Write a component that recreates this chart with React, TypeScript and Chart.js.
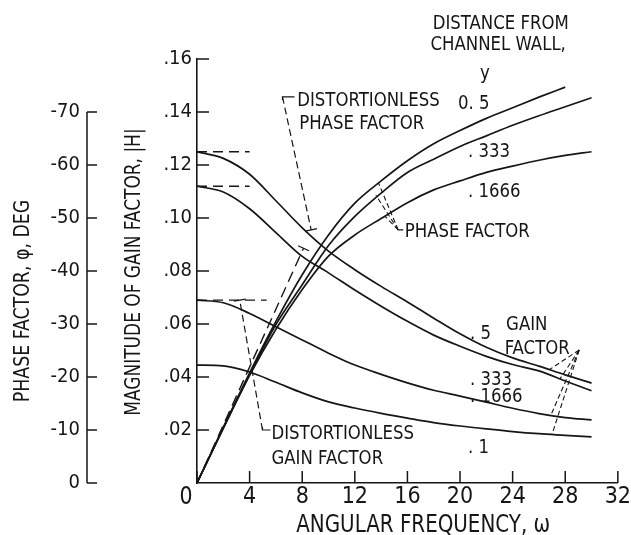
import React, { useEffect, useRef } from "react";
import { Chart, registerables } from "chart.js";

Chart.register(...registerables);

// Angular frequency samples shared by all curves
const omega = [0, 2, 4, 6, 8, 10, 12, 14, 16, 18, 20, 22, 24, 26, 28, 30];

// Magnitude of gain factor |H| for each distance from channel wall
const gainY05 = [0.125, 0.1225, 0.1165, 0.1065, 0.0963, 0.0875, 0.0805, 0.0742, 0.0683, 0.0622, 0.0563, 0.0512, 0.0472, 0.0441, 0.0408, 0.0377];
const gainY0333 = [0.112, 0.1098, 0.1035, 0.0945, 0.0855, 0.0793, 0.0728, 0.0667, 0.061, 0.0558, 0.0516, 0.0478, 0.0447, 0.0423, 0.0385, 0.0348];
const gainY01666 = [0.069, 0.068, 0.064, 0.059, 0.054, 0.049, 0.0445, 0.041, 0.0378, 0.035, 0.0328, 0.0305, 0.0282, 0.0262, 0.0247, 0.0238];
const gainY01 = [0.0445, 0.0442, 0.0419, 0.038, 0.034, 0.0306, 0.0283, 0.0263, 0.0245, 0.0228, 0.0215, 0.0204, 0.0194, 0.0186, 0.018, 0.0174];

// Phase factor, degrees (y = 0.5 curve stops at omega = 28)
const phaseY05 = [0, -10.5, -20.8, -30.5, -39.3, -46.8, -52.8, -57, -60.8, -64, -66.5, -68.8, -70.8, -72.8, -74.7];
const phaseY0333 = [0, -10.4, -20.5, -29.9, -37.4, -44.8, -50.3, -54.7, -58.6, -61.1, -63.5, -65.5, -67.5, -69.3, -71, -72.7];
const phaseY01666 = [0, -10.3, -20.3, -29, -36.5, -42.8, -46.8, -49.9, -52.9, -55.3, -57, -58.6, -59.8, -60.9, -61.8, -62.5];

// Distortionless reference lines
const distortionlessGainEnd = [4, 4, 5.3]; // omega where the dashed level lines stop
const distortionlessPhase = [
  { x: 0, y: 0 },
  { x: 8.1, y: -44.3 },
];

// Leader lines (data coordinates)
const leaderDistPhase = [
  { x: 6.5, y: 0.1457 },
  { x: 8.68, y: 0.0955 },
];
const leaderDistGain = [
  { x: 4.98, y: 0.02 },
  { x: 3.25, y: 0.069 },
];
const phaseLeaderApex = { x: 15.3, y: -47.75 };
const phaseLeaderEnds = [
  { x: 13.8, y: -56.6 },
  { x: 13.6, y: -54.3 },
  { x: 14.3, y: -50.3 },
];
const gainLeaderApex = { x: 29.06, y: 0.0502 };
const gainLeaderEnds = [
  { x: 26.8, y: 0.0428 },
  { x: 27.6, y: 0.0393 },
  { x: 26.9, y: 0.0255 },
  { x: 27.0, y: 0.0184 },
];

// Axis ticks
const omegaTicks = [0, 4, 8, 12, 16, 20, 24, 28, 32];
const gainTicks = [0.02, 0.04, 0.06, 0.08, 0.1, 0.12, 0.14, 0.16];
const phaseTicks = [0, -10, -20, -30, -40, -50, -60, -70];

const FONT = "'Liberation Sans Narrow', 'DejaVu Sans Condensed', 'Liberation Sans', sans-serif";
const INK = "#161616";

const labels = [
  { text: "DISTANCE FROM", x: 23.1, y: 0.174, align: "center" },
  { text: "CHANNEL WALL,", x: 22.9, y: 0.166, align: "center" },
  { text: "y", x: 21.9, y: 0.155, align: "center" },
  { text: "0. 5", x: 19.85, y: 0.1438, align: "left" },
  { text: ". 333", x: 20.6, y: 0.1257, align: "left" },
  { text: ". 1666", x: 20.6, y: 0.1106, align: "left" },
  { text: "DISTORTIONLESS", x: 7.62, y: 0.1449, align: "left" },
  { text: "PHASE FACTOR", x: 7.77, y: 0.1362, align: "left" },
  { text: "PHASE FACTOR", x: 15.8, y: 0.0955, align: "left" },
  { text: "GAIN", x: 23.5, y: 0.0604, align: "left" },
  { text: "FACTOR", x: 23.4, y: 0.0513, align: "left" },
  { text: ". 5", x: 20.75, y: 0.057, align: "left" },
  { text: ". 333", x: 20.75, y: 0.0396, align: "left" },
  { text: ". 1666", x: 20.75, y: 0.0332, align: "left" },
  { text: ". 1", x: 20.6, y: 0.014, align: "left" },
  { text: "DISTORTIONLESS", x: 5.66, y: 0.0192, align: "left" },
  { text: "GAIN FACTOR", x: 5.66, y: 0.0098, align: "left" },
];

const pts = (ys: number[]) => ys.map((y, i) => ({ x: omega[i], y }));

const curve = (data: any[], axis: string) => ({
  data,
  yAxisID: axis,
  borderColor: INK,
  borderWidth: 1.7,
  pointRadius: 0,
  fill: false,
  cubicInterpolationMode: "monotone" as const,
});

const dashed = (data: any[], axis: string, dash: number[], width = 1.2) => ({
  data,
  yAxisID: axis,
  borderColor: INK,
  borderWidth: width,
  borderDash: dash,
  pointRadius: 0,
  fill: false,
  tension: 0,
});

// Text squeezed horizontally to mimic condensed lettering
function squeezedText(ctx: any, text: string, x: number, y: number, size: number, align: string, squeeze: number, angle = 0) {
  ctx.save();
  ctx.translate(x, y);
  ctx.rotate(angle);
  ctx.scale(squeeze, 1);
  ctx.font = `${size}px ${FONT}`;
  ctx.textAlign = align;
  ctx.textBaseline = "alphabetic";
  ctx.fillText(text, 0, size * 0.36);
  ctx.restore();
}

// Short mark across the end of a leader line
function crossTick(ctx: any, a: { x: number; y: number }, b: { x: number; y: number }, len = 10) {
  const dx = b.x - a.x;
  const dy = b.y - a.y;
  const d = Math.hypot(dx, dy) || 1;
  const nx = -dy / d;
  const ny = dx / d;
  ctx.beginPath();
  ctx.moveTo(b.x - (nx * len) / 2, b.y - (ny * len) / 2);
  ctx.lineTo(b.x + (nx * len) / 2, b.y + (ny * len) / 2);
  ctx.stroke();
}

const decorations = {
  id: "decorations",
  afterDraw(chart: any) {
    const { ctx, scales, chartArea } = chart;
    const xs = scales.x;
    const ys = scales.y;
    const ps = scales.phase;
    const pg = (p: { x: number; y: number }) => ({ x: xs.getPixelForValue(p.x), y: ys.getPixelForValue(p.y) });
    const pp = (p: { x: number; y: number }) => ({ x: xs.getPixelForValue(p.x), y: ps.getPixelForValue(p.y) });
    ctx.save();
    ctx.strokeStyle = INK;
    ctx.fillStyle = INK;
    ctx.lineWidth = 1.5;

    // outer phase axis: line with inward ticks
    const ax = ps.right;
    ctx.beginPath();
    ctx.moveTo(ax, ps.getPixelForValue(0));
    ctx.lineTo(ax, ps.getPixelForValue(-70));
    phaseTicks.forEach((v) => {
      const py = ps.getPixelForValue(v);
      ctx.moveTo(ax, py);
      ctx.lineTo(ax + 10, py);
    });
    // inner gain axis ticks
    gainTicks.forEach((v) => {
      const py = ys.getPixelForValue(v);
      ctx.moveTo(chartArea.left, py);
      ctx.lineTo(chartArea.left + 12, py);
    });
    // frequency axis ticks
    omegaTicks.forEach((v) => {
      const px = xs.getPixelForValue(v);
      ctx.moveTo(px, chartArea.bottom);
      ctx.lineTo(px, chartArea.bottom - 12);
    });
    ctx.stroke();

    // shared zero at the origin corner
    squeezedText(ctx, "0", chartArea.left - 11, chartArea.bottom + 12, 24, "center", 0.95);

    // label corner stubs and end marks of the leaders
    ctx.lineWidth = 1.2;
    ctx.beginPath();
    const s1 = pg(leaderDistPhase[0]);
    ctx.moveTo(s1.x, s1.y + 3);
    ctx.lineTo(s1.x, s1.y);
    ctx.lineTo(s1.x + 12, s1.y);
    const s2 = pg(leaderDistGain[0]);
    ctx.moveTo(s2.x, s2.y - 3);
    ctx.lineTo(s2.x, s2.y);
    ctx.lineTo(s2.x + 8, s2.y);
    const s3 = pp(phaseLeaderApex);
    ctx.moveTo(s3.x, s3.y);
    ctx.lineTo(s3.x + 5, s3.y);
    ctx.stroke();
    crossTick(ctx, pg(leaderDistPhase[0]), pg(leaderDistPhase[1]), 12);
    crossTick(ctx, pg(leaderDistGain[0]), pg(leaderDistGain[1]), 12);
    crossTick(ctx, pp(distortionlessPhase[0]), pp(distortionlessPhase[1]), 12);

    // text labels in data coordinates
    labels.forEach((l) => {
      squeezedText(ctx, l.text, xs.getPixelForValue(l.x), ys.getPixelForValue(l.y), 20, l.align, 0.92);
    });

    // axis titles
    squeezedText(ctx, "ANGULAR FREQUENCY, ω", xs.getPixelForValue(17.2), chartArea.bottom + 40, 24, "center", 0.92);
    squeezedText(ctx, "PHASE FACTOR, φ, DEG", 21, 301, 21, "center", 0.92, -Math.PI / 2);
    squeezedText(ctx, "MAGNITUDE OF GAIN FACTOR, |H|", 132, 272, 21, "center", 0.9, -Math.PI / 2);

    ctx.restore();
  },
};

export default function App() {
  const ref = useRef<HTMLCanvasElement | null>(null);

  useEffect(() => {
    if (!ref.current) return;
    const levels = [gainY05[0], gainY0333[0], gainY01666[0]];
    const datasets: any[] = [
      curve(pts(gainY05), "y"),
      curve(pts(gainY0333), "y"),
      curve(pts(gainY01666), "y"),
      curve(pts(gainY01), "y"),
      curve(pts(phaseY05), "phase"),
      curve(pts(phaseY0333), "phase"),
      curve(pts(phaseY01666), "phase"),
      ...levels.map((h, i) =>
        dashed([{ x: 0, y: h }, { x: distortionlessGainEnd[i], y: h }], "y", [10, 6], 1.4)
      ),
      dashed(distortionlessPhase, "phase", [11, 6], 1.4),
      dashed(leaderDistPhase, "y", [7, 4]),
      dashed(leaderDistGain, "y", [7, 4]),
      ...phaseLeaderEnds.map((e) => dashed([phaseLeaderApex, e], "phase", [5, 3], 1.1)),
      ...gainLeaderEnds.map((e) => dashed([gainLeaderApex, e], "y", [5, 3], 1.1)),
    ];

    const chart = new Chart(ref.current, {
      type: "line",
      data: { datasets },
      options: {
        responsive: false,
        animation: false,
        layout: { padding: { top: 59, right: 10, left: 0, bottom: 0 } },
        plugins: { legend: { display: false }, tooltip: { enabled: false } },
        scales: {
          x: {
            type: "linear",
            min: 0,
            max: 32,
            position: "bottom",
            afterFit: (s: any) => {
              s.height = 52;
            },
            afterBuildTicks: (s: any) => {
              s.ticks = omegaTicks.map((v) => ({ value: v }));
            },
            grid: { display: false, drawTicks: false },
            border: { display: true, color: INK, width: 1.6 },
            ticks: {
              padding: 0,
              color: INK,
              font: { family: FONT, size: 23 },
              maxRotation: 0,
              callback: (v: any) => (v === 0 ? "" : String(v)),
            },
          },
          y: {
            type: "linear",
            min: 0,
            max: 0.16,
            position: "left",
            weight: 0,
            afterFit: (s: any) => {
              s.width = 110;
            },
            afterBuildTicks: (s: any) => {
              s.ticks = gainTicks.map((v) => ({ value: v }));
            },
            grid: { display: false, drawTicks: false },
            border: { display: true, color: INK, width: 1.6 },
            ticks: {
              padding: 5,
              color: INK,
              font: { family: FONT, size: 20 },
              callback: (v: any) => "." + String(Math.round(v * 100)).padStart(2, "0"),
            },
          },
          phase: {
            type: "linear",
            min: -80,
            max: 0,
            reverse: true,
            position: "left",
            weight: 1,
            afterFit: (s: any) => {
              s.width = 87;
            },
            afterBuildTicks: (s: any) => {
              s.ticks = phaseTicks.map((v) => ({ value: v }));
            },
            grid: { display: false, drawTicks: false },
            border: { display: false },
            ticks: {
              padding: 7,
              color: INK,
              font: { family: FONT, size: 20 },
              callback: (v: any) => String(v),
            },
          },
        },
      },
      plugins: [decorations],
    });
    return () => chart.destroy();
  }, []);

  return (
    <div style={{ position: "fixed", left: 0, top: 0, width: 631, height: 535, background: "#fff" }}>
      <canvas ref={ref} width={631} height={535} style={{ width: 631, height: 535, display: "block" }} />
    </div>
  );
}
